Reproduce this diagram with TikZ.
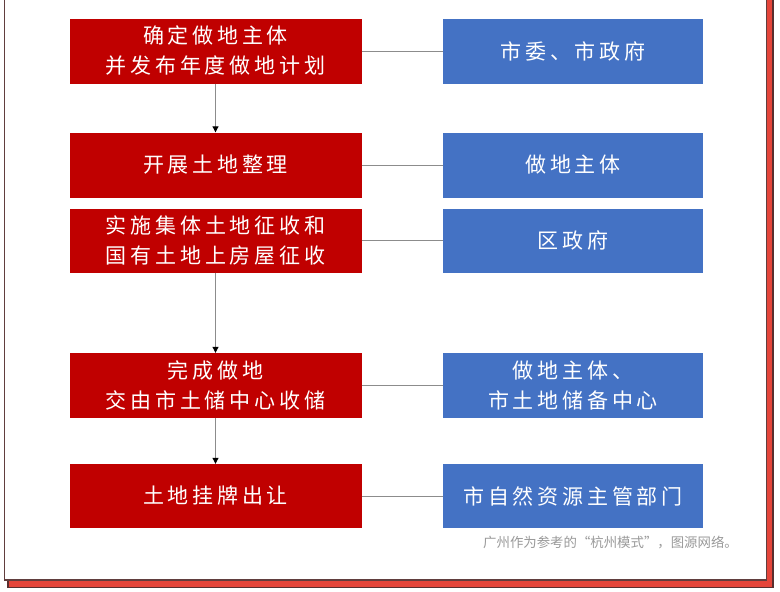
\documentclass[tikz,border=0pt]{standalone}
\usepackage{fontspec}
\newfontfamily\cjk[LetterSpace=18]{Noto Sans CJK SC}
\newfontfamily\cjkcap{Noto Sans CJK SC}
\usetikzlibrary{arrows.meta}
\definecolor{boxred}{HTML}{C00000}
\definecolor{boxblue}{HTML}{4472C4}
\definecolor{framered}{HTML}{E5453A}
\definecolor{framedark}{HTML}{5A2E2E}
\definecolor{linegray}{HTML}{8C8C8C}
\definecolor{capgray}{HTML}{9A9A9A}
\begin{document}
\begin{tikzpicture}[x=1pt,y=-1pt,
  redbox/.style={fill=boxred,draw=none,minimum width=292pt,minimum height=65pt,inner sep=0pt,
    text=white,align=center,font=\cjk\fontsize{21}{30}\selectfont},
  bluebox/.style={fill=boxblue,draw=none,minimum width=260pt,minimum height=65pt,inner sep=0pt,
    text=white,align=center,font=\cjk\fontsize{21}{30}\selectfont},
  link/.style={draw=linegray,line width=1pt},
  flow/.style={draw=linegray,line width=1pt,-{Triangle[width=6pt,length=6pt,black]}}]
\useasboundingbox (0,0) rectangle (780,592);
% frame
\draw[fill=framered,draw=framedark,line width=1.2pt] (8,-10) rectangle (773,587.5);
\draw[fill=white,draw=framedark!80!gray,line width=1.2pt] (4.5,-10) rectangle (766.5,580);
% red boxes
\node[redbox] (r1) at (215.5,51) {确定做地主体\\并发布年度做地计划};
\node[redbox] (r2) at (215.5,165) {开展土地整理};
\node[redbox,minimum height=64pt] (r3) at (215.5,240.5) {实施集体土地征收和\\国有土地上房屋征收};
\node[redbox] (r4) at (215.5,385.5) {完成做地\\交由市土储中心收储};
\node[redbox,minimum height=64pt] (r5) at (215.5,496) {土地挂牌出让};
% blue boxes
\node[bluebox] (b1) at (573,51) {市委、市政府};
\node[bluebox] (b2) at (573,165) {做地主体};
\node[bluebox,minimum height=64pt] (b3) at (573,240.5) {区政府};
\node[bluebox] (b4) at (573,385.5) {做地主体、\\市土地储备中心};
\node[bluebox,minimum height=64pt] (b5) at (573,496) {市自然资源主管部门};
% links
\foreach \i in {1,...,5} {\path[link] (r\i.east) -- (b\i.west);}
\path[flow] (r1.south) -- (r2.north);
\path[flow] (r3.south) -- (r4.north);
\path[flow] (r4.south) -- (r5.north);
% caption
\node[anchor=east,inner sep=0pt,text=capgray,font=\cjkcap\fontsize{13.4}{15}\selectfont] (cap) at (738,542) {广州作为参考的“杭州模式”，图源网络。};
\end{tikzpicture}
\end{document}
